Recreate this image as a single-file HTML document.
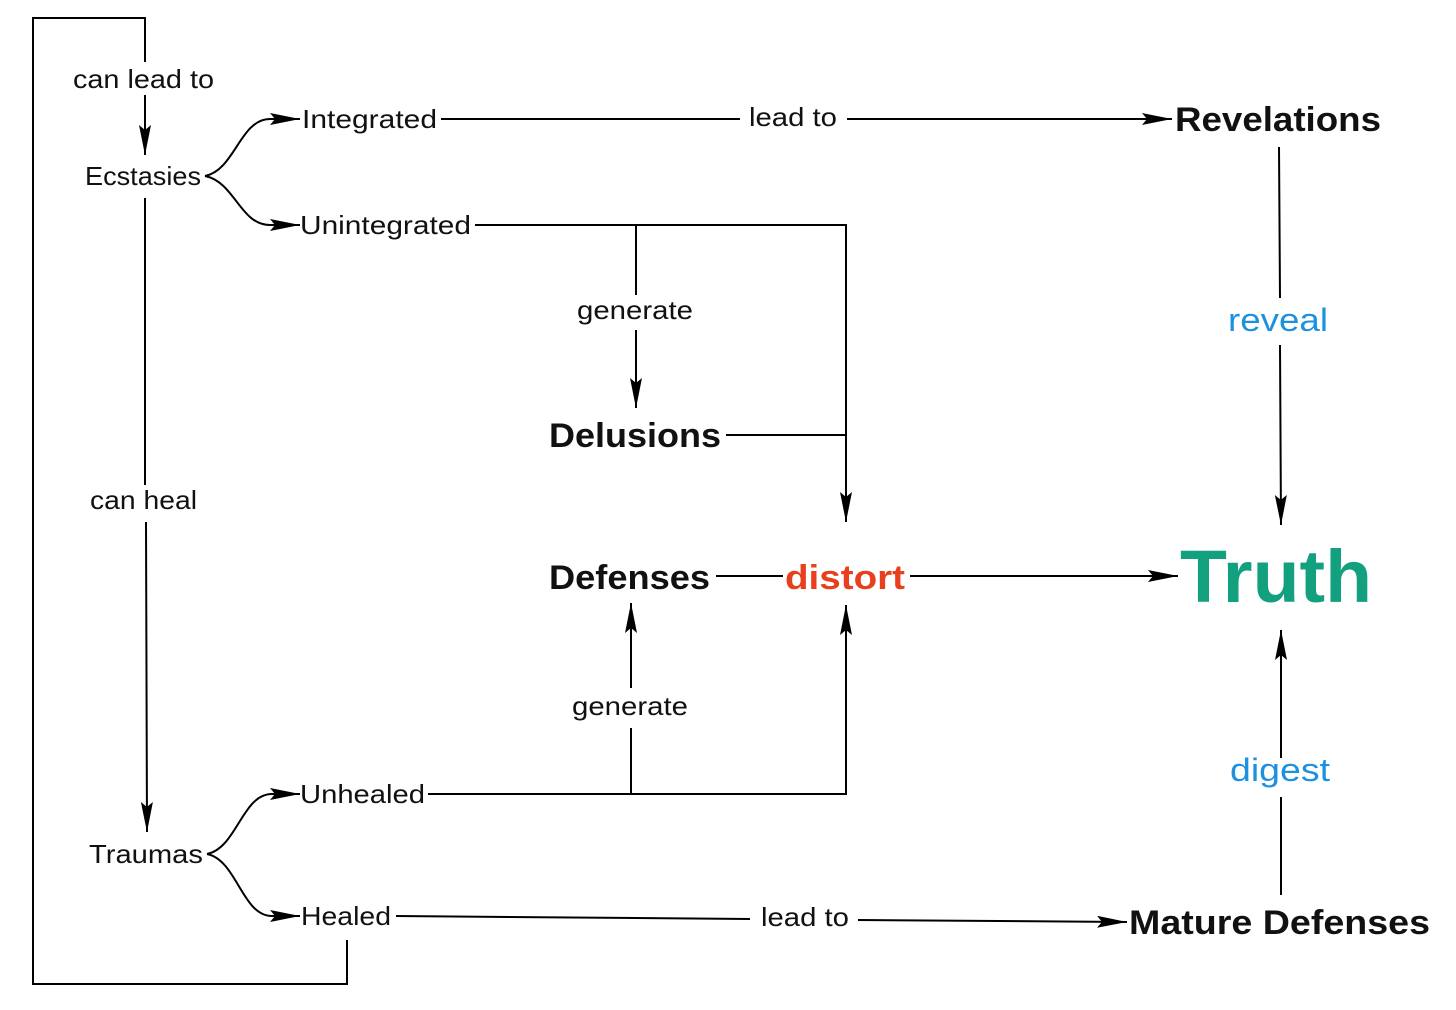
<!DOCTYPE html>
<html><head><meta charset="utf-8"><style>
html,body{margin:0;padding:0;background:#fff;}
svg{display:block;}
text{font-family:"Liberation Sans","DejaVu Sans",sans-serif;fill:#111;}
.n{font-size:26px;}
.b{font-size:34px;font-weight:bold;}
</style></head><body>
<svg width="1456" height="1010" viewBox="0 0 1456 1010" xmlns="http://www.w3.org/2000/svg">
<defs>
<marker id="a" markerUnits="userSpaceOnUse" markerWidth="32" markerHeight="14" refX="30" refY="6" orient="auto">
<path d="M0,0 L30,6 L0,12 L5,6 Z" fill="#000"/>
</marker>
</defs>
<g stroke="#000" stroke-width="2" fill="none">
<!-- outer loop -->
<polyline points="145,62 145,18 33,18 33,984 347,984 347,940"/>
<line x1="145" y1="95" x2="145" y2="155" marker-end="url(#a)"/>
<!-- ecstasies branches -->
<path d="M205,176 C235,170 240,119 270,119 L300,119" marker-end="url(#a)"/>
<path d="M205,176 C235,182 240,225 270,225 L300,225" marker-end="url(#a)"/>
<line x1="441" y1="119" x2="740" y2="119"/>
<line x1="847" y1="119" x2="1172" y2="119" marker-end="url(#a)"/>
<line x1="1279" y1="147" x2="1280" y2="298"/>
<line x1="1280" y1="345" x2="1281" y2="525" marker-end="url(#a)"/>
<polyline points="475,225 846,225 846,522" marker-end="url(#a)"/>
<line x1="636" y1="225" x2="636" y2="295"/>
<line x1="636" y1="330" x2="636" y2="408" marker-end="url(#a)"/>
<line x1="726" y1="435" x2="846" y2="435"/>
<line x1="716" y1="576" x2="783" y2="576"/>
<line x1="910" y1="576" x2="1178" y2="576" marker-end="url(#a)"/>
<line x1="1281" y1="895" x2="1281" y2="797"/>
<line x1="1281" y1="758" x2="1281" y2="630" marker-end="url(#a)"/>
<polyline points="428,794 846,794 846,605" marker-end="url(#a)"/>
<line x1="631" y1="794" x2="631" y2="728"/>
<line x1="631" y1="688" x2="631" y2="603" marker-end="url(#a)"/>
<line x1="145" y1="198" x2="145" y2="485"/>
<line x1="146" y1="522" x2="147" y2="832" marker-end="url(#a)"/>
<path d="M207,854 C237,848 242,794 272,794 L300,794" marker-end="url(#a)"/>
<path d="M207,854 C237,860 242,916 272,916 L300,916" marker-end="url(#a)"/>
<line x1="396" y1="916" x2="750" y2="919"/>
<line x1="858" y1="920" x2="1127" y2="922" marker-end="url(#a)"/>
</g>
<text class="n" x="73" y="88" textLength="141" lengthAdjust="spacingAndGlyphs">can lead to</text>
<text class="n" x="85" y="185" textLength="116" lengthAdjust="spacingAndGlyphs">Ecstasies</text>
<text class="n" x="302" y="128" textLength="135" lengthAdjust="spacingAndGlyphs">Integrated</text>
<text class="n" x="749" y="126" textLength="88" lengthAdjust="spacingAndGlyphs">lead to</text>
<text class="b" x="1175" y="131" textLength="206" lengthAdjust="spacingAndGlyphs">Revelations</text>
<text class="n" x="1228" y="331" textLength="100" lengthAdjust="spacingAndGlyphs" style="fill:#1e90e0;font-size:32px">reveal</text>
<text class="n" x="300" y="234" textLength="171" lengthAdjust="spacingAndGlyphs">Unintegrated</text>
<text class="n" x="577" y="319" textLength="116" lengthAdjust="spacingAndGlyphs">generate</text>
<text class="b" x="549" y="447" textLength="172" lengthAdjust="spacingAndGlyphs">Delusions</text>
<text class="n" x="90" y="509" textLength="107" lengthAdjust="spacingAndGlyphs">can heal</text>
<text class="b" x="549" y="589" textLength="161" lengthAdjust="spacingAndGlyphs">Defenses</text>
<text class="b" x="785" y="589" textLength="120" lengthAdjust="spacingAndGlyphs" style="fill:#e8401c">distort</text>
<text x="1180" y="602" textLength="192" lengthAdjust="spacingAndGlyphs" style="font-size:74px;font-weight:bold;fill:#12a07f">Truth</text>
<text class="n" x="572" y="715" textLength="116" lengthAdjust="spacingAndGlyphs">generate</text>
<text class="n" x="1230" y="781" textLength="100" lengthAdjust="spacingAndGlyphs" style="fill:#1e90e0;font-size:32px">digest</text>
<text class="n" x="300" y="803" textLength="125" lengthAdjust="spacingAndGlyphs">Unhealed</text>
<text class="n" x="89" y="863" textLength="114" lengthAdjust="spacingAndGlyphs">Traumas</text>
<text class="n" x="301" y="925" textLength="90" lengthAdjust="spacingAndGlyphs">Healed</text>
<text class="n" x="761" y="926" textLength="88" lengthAdjust="spacingAndGlyphs">lead to</text>
<text class="b" x="1129" y="934" textLength="301" lengthAdjust="spacingAndGlyphs">Mature Defenses</text>
</svg>
</body></html>
